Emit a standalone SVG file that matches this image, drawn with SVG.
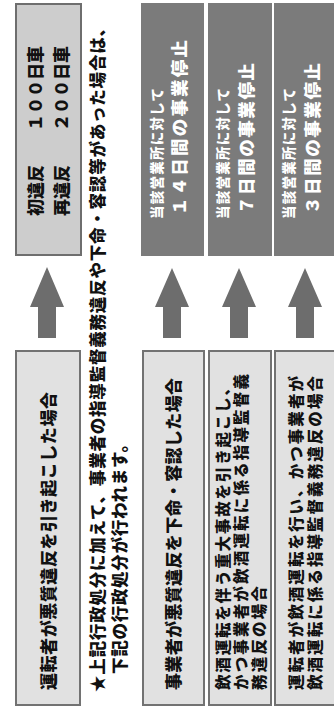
<svg xmlns="http://www.w3.org/2000/svg" width="334" height="707" viewBox="0 0 334 707">
<defs>
<style>
text{font-family:"Noto Sans CJK JP","Noto Sans CJK SC",sans-serif;font-weight:900}
.dk{fill:#111}
.wt{fill:#fff}
.lt{fill:#cdcdcd;stroke:#6e6e6e;stroke-width:2}
.bx{fill:#e1e1e1;stroke:#727272;stroke-width:2}
.dg{fill:#7b7b7b}
.ar{fill:#6d6d6d}
</style>
</defs>
<rect width="334" height="707" fill="#ffffff"/>
<g id="result-vehicle">
<rect class="lt" x="16" y="4" width="65" height="251"/>
<text class="dk" font-size="17" transform="translate(42,216) rotate(-90)" textLength="170" lengthAdjust="spacing">初違反　　１００日車</text>
<text class="dk" font-size="17" transform="translate(68,216) rotate(-90)" textLength="170" lengthAdjust="spacing">再違反　　２００日車</text>
</g>
<g id="cause-driver">
<rect class="bx" x="16" y="351" width="64" height="354"/>
<text class="dk" font-size="17" transform="translate(55,690) rotate(-90)" textLength="298" lengthAdjust="spacing">運転者が悪質違反を引き起こした場合</text>
</g>
<g id="note">
<text class="dk" font-size="16.5" transform="translate(104,692) rotate(-90)" textLength="672" lengthAdjust="spacing">★上記行政処分に加えて、事業者の指導監督義務違反や下命・容認等があった場合は、</text>
<text class="dk" font-size="16.5" transform="translate(126,674) rotate(-90)" textLength="238" lengthAdjust="spacing">下記の行政処分が行われます。</text>
</g>
<g id="result-14">
<rect class="dg" x="141" y="3" width="63" height="253"/>
<text class="wt" font-size="13.5" transform="translate(162,219) rotate(-90)" textLength="131" lengthAdjust="spacing">当該営業所に対して</text>
<text class="wt" font-size="17.5" transform="translate(186,215) rotate(-90)" textLength="175" lengthAdjust="spacing">１４日間の事業停止</text>
</g>
<g id="result-7">
<rect class="dg" x="208" y="3" width="64" height="253"/>
<text class="wt" font-size="13.5" transform="translate(228,219) rotate(-90)" textLength="131" lengthAdjust="spacing">当該営業所に対して</text>
<text class="wt" font-size="17.5" transform="translate(253,214) rotate(-90)" textLength="151" lengthAdjust="spacing">７日間の事業停止</text>
</g>
<g id="result-3">
<rect class="dg" x="274" y="3" width="62" height="253"/>
<text class="wt" font-size="13.5" transform="translate(294,219) rotate(-90)" textLength="131" lengthAdjust="spacing">当該営業所に対して</text>
<text class="wt" font-size="17.5" transform="translate(319,214) rotate(-90)" textLength="151" lengthAdjust="spacing">３日間の事業停止</text>
</g>
<g id="cause-order">
<rect class="bx" x="143" y="351" width="61" height="354"/>
<text class="dk" font-size="17" transform="translate(180,690) rotate(-90)" textLength="312" lengthAdjust="spacing">事業者が悪質違反を下命・容認した場合</text>
</g>
<g id="cause-accident">
<rect class="bx" x="209" y="351" width="62" height="354"/>
<text class="dk" font-size="15.5" transform="translate(229,690) rotate(-90)" textLength="310" lengthAdjust="spacing">飲酒運転を伴う重大事故を引き起こし、</text>
<text class="dk" font-size="15.5" transform="translate(247,690) rotate(-90)" textLength="316" lengthAdjust="spacing">かつ事業者が飲酒運転に係る指導監督義</text>
<text class="dk" font-size="15.5" transform="translate(265,690) rotate(-90)" textLength="104" lengthAdjust="spacing">務違反の場合</text>
</g>
<g id="cause-drunk">
<rect class="bx" x="275" y="351" width="62" height="354"/>
<text class="dk" font-size="15.5" transform="translate(302,690) rotate(-90)" textLength="314" lengthAdjust="spacing">運転者が飲酒運転を行い、かつ事業者が</text>
<text class="dk" font-size="15.5" transform="translate(321,690) rotate(-90)" textLength="314" lengthAdjust="spacing">飲酒運転に係る指導監督義務違反の場合</text>
</g>
<g id="connectors">
<polygon class="ar" points="47,267 64,307 56,307 56,338 38,338 38,307 30,307"/>
<polygon class="ar" points="172,268 189,307 181,307 181,338 163,338 163,307 155,307"/>
<polygon class="ar" points="239,268 256,307 248,307 248,338 230,338 230,307 222,307"/>
<polygon class="ar" points="305,268 322,307 314,307 314,338 296,338 296,307 288,307"/>
</g>
</svg>
